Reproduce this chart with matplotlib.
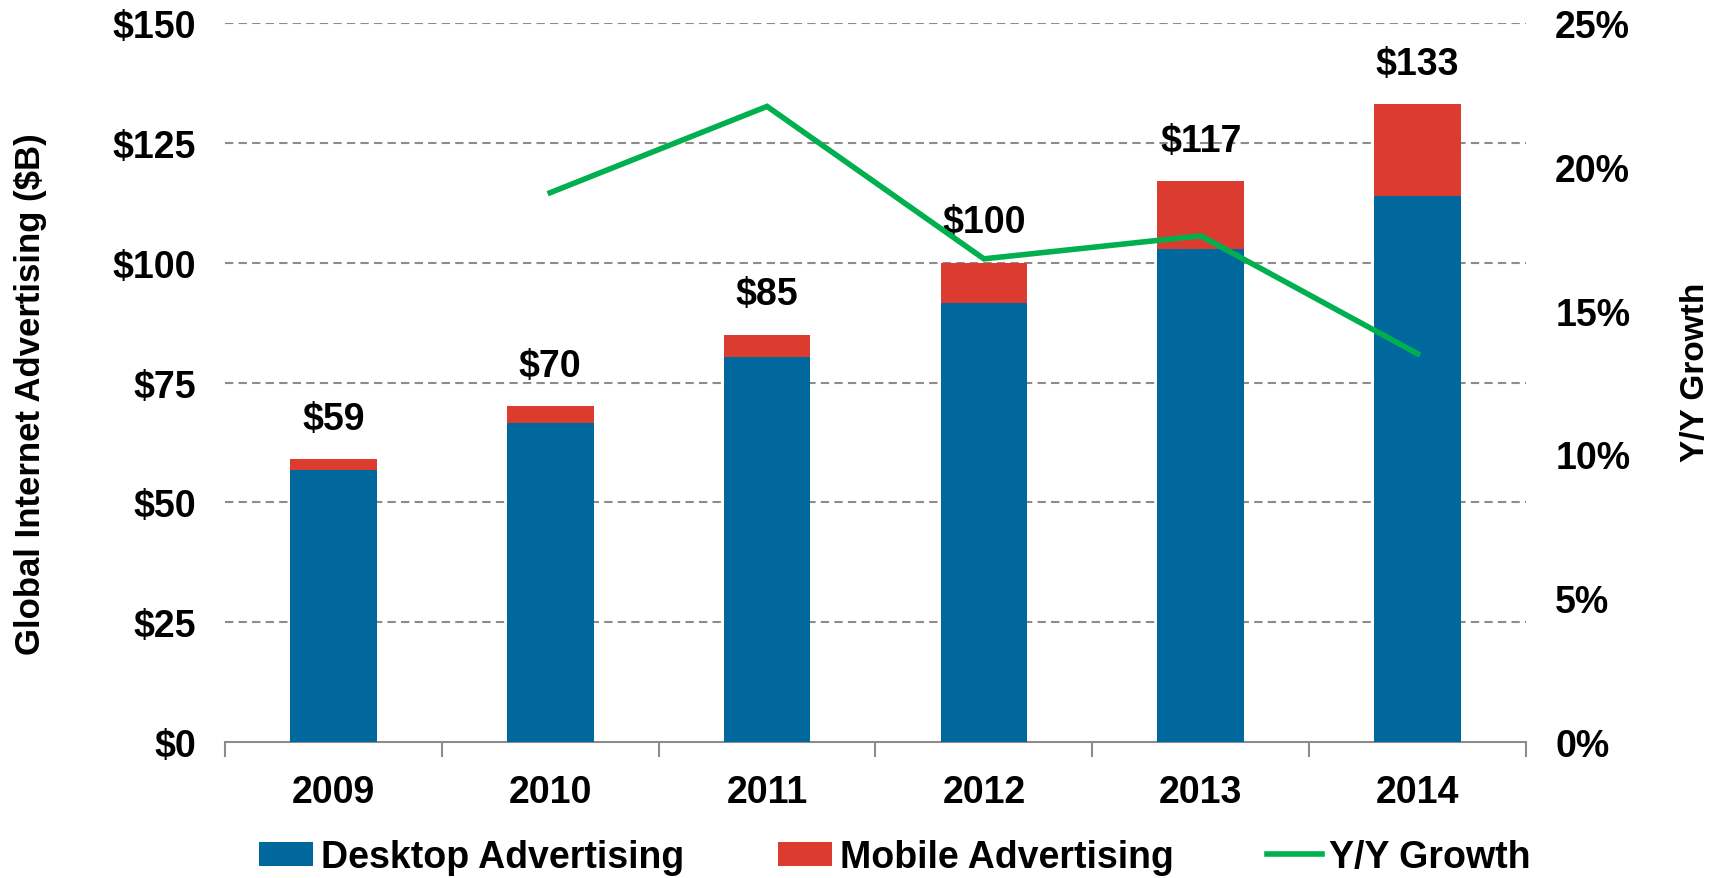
import numpy as np
import matplotlib
matplotlib.use("Agg")
import matplotlib.pyplot as plt
from matplotlib.ticker import FixedLocator, NullFormatter

plt.rcParams["font.family"] = ["Liberation Sans", "DejaVu Sans"]
plt.rcParams["font.weight"] = "bold"

years = ["2009", "2010", "2011", "2012", "2013", "2014"]
desktop = [56.8, 66.6, 80.4, 91.6, 102.8, 114.0]
mobile = [2.2, 3.4, 4.6, 8.4, 14.2, 19.0]
growth = [np.nan, 19.1, 22.1, 16.8, 17.6, 13.5]

left_ticks = [0, 25, 50, 75, 100, 125, 150]
right_ticks = [0, 5, 10, 15, 20, 25]

BLUE = "#00689D"
RED = "#DC3C2F"
GREEN = "#00B04F"
GRID = "#8C8C8C"
FS = 27

fig = plt.figure(figsize=(17.21, 8.79), dpi=100)
ax = fig.add_axes([0.1307, 0.1547, 0.7560, 0.8180])

x = np.arange(len(years))
ax.bar(x, desktop, width=0.40, color=BLUE, label="Desktop Advertising", zorder=3)
ax.bar(x, mobile, width=0.40, bottom=desktop, color=RED,
       label="Mobile Advertising", zorder=3)

for xi, d, m in zip(x, desktop, mobile):
    ax.annotate(f"${round(d + m)}", (xi, d + m), xytext=(0, 16),
                textcoords="offset points", ha="center", va="bottom",
                fontsize=FS, fontweight="bold")

ax.set_xlim(-0.5, len(years) - 0.5)
ax.set_ylim(0, 150)
ax.set_yticks(left_ticks)
ax.set_yticklabels([f"${v}" for v in left_ticks])
ax.tick_params(axis="y", length=0, pad=21, labelsize=FS)

ax.xaxis.set_major_locator(FixedLocator(np.arange(-0.5, len(years), 1.0)))
ax.xaxis.set_major_formatter(NullFormatter())
ax.xaxis.set_minor_locator(FixedLocator(x))
ax.set_xticklabels(years, minor=True)
ax.tick_params(axis="x", which="major", length=11, width=1.5, color=GRID)
ax.tick_params(axis="x", which="minor", length=0, pad=23, labelsize=FS)

for side in ["left", "right", "top"]:
    ax.spines[side].set_visible(False)
ax.spines["bottom"].set_color(GRID)
ax.spines["bottom"].set_linewidth(1.5)

ax.set_axisbelow(True)
ax.yaxis.grid(True, color=GRID, linestyle=(0, (4, 2.5)), linewidth=1.5)
for line in ax.yaxis.get_gridlines()[:1]:
    line.set_visible(False)

ax.set_ylabel("Global Internet Advertising ($B)", fontsize=25, fontweight="bold")
ax.yaxis.set_label_coords(-0.137, 0.485)

ax2 = ax.twinx()
ax2.plot(x, growth, color=GREEN, linewidth=4, label="Y/Y Growth",
         solid_joinstyle="miter")
ax2.set_ylim(0, 25)
ax2.set_yticks(right_ticks)
ax2.set_yticklabels([f"{v}%" for v in right_ticks])
ax2.tick_params(axis="y", length=0, pad=21, labelsize=FS)
for side in ["left", "right", "top", "bottom"]:
    ax2.spines[side].set_visible(False)
ax2.set_ylabel("Y/Y Growth", fontsize=24, fontweight="bold")
ax2.yaxis.set_label_coords(1.118, 0.515)

handles = ax.get_legend_handles_labels()[0] + ax2.get_legend_handles_labels()[0]
labels = ["Desktop Advertising", "Mobile Advertising", "Y/Y Growth"]
fig.legend(handles, labels, loc="center", bbox_to_anchor=(0.52, 0.024),
           ncol=3, frameon=False, fontsize=FS, handlelength=1.45,
           handleheight=0.6, handletextpad=0.2, columnspacing=2.5)

fig.savefig("out.png", dpi=100)
